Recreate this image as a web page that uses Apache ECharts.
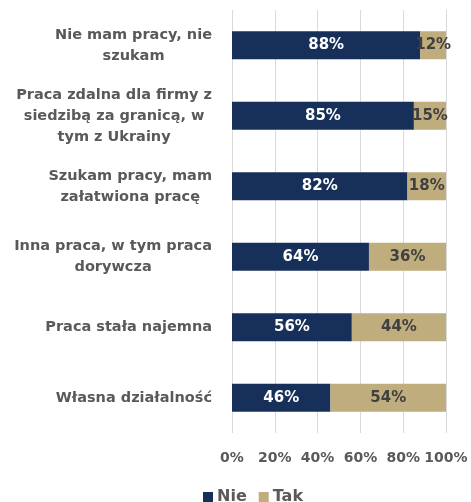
<!DOCTYPE html>
<html><head><meta charset="utf-8">
<script src="https://cdn.jsdelivr.net/npm/echarts@6/dist/echarts.min.js"></script>
<style>html,body{margin:0;padding:0;background:#fff}#c{width:471px;height:502px}</style>
</head><body><div id="c"></div>
<script>
const categories = [
  "Nie mam pracy, nie\nszukam",
  "Praca zdalna dla firmy z\nsiedzibą za granicą, w\ntym z Ukrainy",
  "Szukam pracy, mam\nzałatwiona pracę",
  "Inna praca, w tym praca\ndorywcza",
  "Praca stała najemna",
  "Własna działalność"
];
const nie = [88, 85, 82, 64, 56, 46];
const tak = [12, 15, 18, 36, 44, 54];
const xTicks = [0, 20, 40, 60, 80, 100];

const font = "DejaVu Sans";
const chart = echarts.init(document.getElementById('c'), null, {renderer: 'canvas'});
chart.setOption({
  animation: false,
  grid: {left: 232, right: 25, top: 10, bottom: 69, containLabel: false},
  legend: {
    top: 484, left: 198, itemWidth: 10, itemHeight: 10, itemGap: 12,
    icon: 'rect',
    textStyle: {fontFamily: font, fontWeight: 'bold', fontSize: 16, color: '#595959', padding: [0, 0, 0, -1]},
    data: ['Nie', 'Tak']
  },
  xAxis: {
    type: 'value', min: xTicks[0], max: xTicks[xTicks.length - 1], interval: 20,
    axisLine: {show: false}, axisTick: {show: false},
    splitLine: {lineStyle: {color: '#d9d9d9', width: 1}},
    axisLabel: {formatter: '{value}%', margin: 18, fontFamily: font, fontWeight: 'bold', fontSize: 14, color: '#595959'}
  },
  yAxis: {
    type: 'category', inverse: true, data: categories,
    axisLine: {show: false}, axisTick: {show: false},
    axisLabel: {
      margin: 20, align: 'right',
      formatter: v => v.split('\n').map(l => '{c|' + l + '}').join('\n'),
      rich: {c: {align: 'center', lineHeight: 21, fontFamily: font, fontWeight: 'bold', fontSize: 14.5, color: '#595959'}}
    }
  },
  series: [
    {name: 'Nie', type: 'bar', stack: 's', data: nie, barWidth: 28,
     itemStyle: {color: '#17305a'},
     label: {show: true, position: 'inside', formatter: '{c}%', fontFamily: font, fontWeight: 'bold', fontSize: 15, color: '#ffffff'}},
    {name: 'Tak', type: 'bar', stack: 's', data: tak, barWidth: 28,
     itemStyle: {color: '#c0ad7d'},
     label: {show: true, position: 'inside', formatter: '{c}%', fontFamily: font, fontWeight: 'bold', fontSize: 15, color: '#404040'}}
  ]
});
</script></body></html>
